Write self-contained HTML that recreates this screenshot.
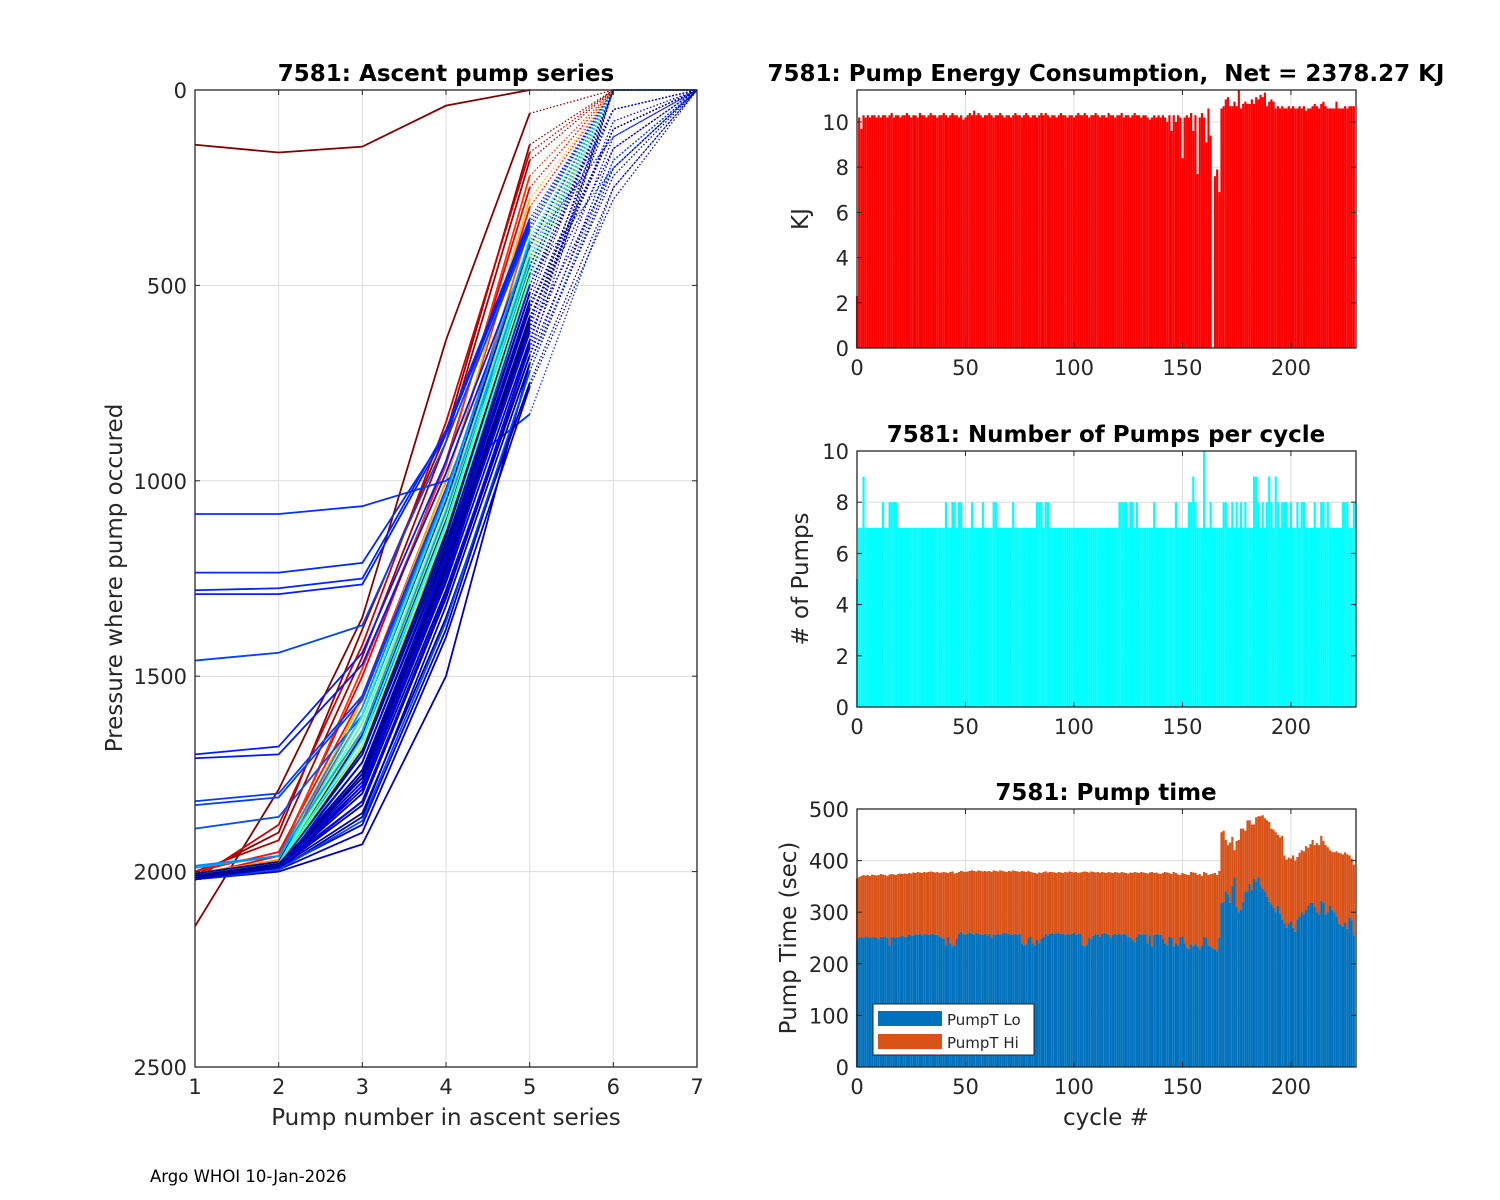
<!DOCTYPE html>
<html><head><meta charset="utf-8">
<style>
html,body{margin:0;padding:0;background:#fff;}
svg{display:block;font-family:"DejaVu Sans","Liberation Sans",sans-serif;}
</style></head>
<body>
<svg id="fig" width="1500" height="1200" viewBox="0 0 1500 1200">
<rect x="0" y="0" width="1500" height="1200" fill="#fff"/>
</svg>
<script>
// ---------- DATA ----------
const energyKJ = [2.3,10.2,9.7,10.3,10.2,10.3,10.2,10.3,10.3,10.2,
10.3,10.2,10.3,10.3,10.2,10.3,10.4,10.2,10.3,10.3,
10.2,10.3,10.3,10.4,10.3,10.2,10.3,10.3,10.2,10.4,
10.3,10.3,10.2,10.3,10.4,10.3,10.3,10.2,10.3,10.3,
10.4,10.3,10.2,10.3,10.4,10.3,10.3,10.2,10.3,10.1,
10.2,10.3,10.4,10.3,10.5,10.3,10.4,10.3,10.2,10.3,
10.3,10.4,10.3,10.2,10.3,10.3,10.4,10.3,10.2,10.3,
10.3,10.2,10.3,10.4,10.3,10.3,10.2,10.3,10.4,10.3,
10.2,10.3,10.3,10.2,10.3,10.4,10.3,10.4,10.3,10.2,
10.3,10.3,10.2,10.3,10.4,10.3,10.3,10.2,10.3,10.3,
10.2,10.3,10.4,10.3,10.3,10.4,10.3,10.2,10.3,10.3,
10.4,10.3,10.2,10.3,10.3,10.2,10.4,10.3,10.3,10.2,
10.3,10.3,10.4,10.2,10.3,10.3,10.2,10.3,10.4,10.3,
10.3,10.2,10.3,10.3,10.2,10.1,10.2,10.3,10.2,10.3,
10.2,10.3,10.2,10.0,10.3,9.6,10.3,10.0,10.3,10.2,
8.4,10.2,10.3,10.2,10.4,9.6,10.3,7.7,10.2,10.4,
10.2,9.1,10.6,9.4,0,7.6,7.9,6.9,10.6,10.7,
11.0,11.1,10.7,10.7,10.9,10.7,11.4,10.6,10.8,10.9,
10.8,10.8,11.0,10.8,11.1,11.0,11.2,11.1,11.3,10.7,
10.9,11.0,10.9,10.6,10.7,10.6,10.7,10.6,10.6,10.7,
10.6,10.7,10.6,10.6,10.7,10.6,10.7,10.5,10.6,10.6,
10.7,10.8,10.7,10.6,10.8,10.9,10.7,10.6,10.6,10.6,
10.6,10.9,10.6,10.6,10.6,10.7,10.6,10.7,10.7,10.7];
const pumpCount = [5,7,7,9,7,7,7,7,7,7,
7,7,8,7,7,8,8,8,8,7,
7,7,7,7,7,7,7,7,7,7,
7,7,7,7,7,7,7,7,7,7,
7,8,7,7,8,8,7,8,8,7,
7,7,7,8,7,7,7,7,8,7,
7,7,7,8,8,7,7,7,7,7,
7,7,8,7,7,7,7,7,7,7,
7,7,7,8,8,8,7,8,8,7,
7,7,7,7,7,7,7,7,7,7,
7,7,7,7,7,7,7,7,7,7,
7,7,7,7,7,7,7,7,7,7,
7,8,8,8,8,7,8,8,7,8,
7,7,7,7,7,7,7,8,7,7,
7,7,7,7,7,7,7,8,7,7,
7,7,7,8,8,9,8,7,7,7,
10,7,7,8,7,7,7,7,7,8,
8,7,7,8,7,8,7,8,7,8,
7,7,7,9,9,8,7,8,7,8,
9,8,7,9,8,7,8,8,8,7,
8,7,7,8,7,8,8,7,7,7,
7,8,7,7,8,8,7,8,7,7,
7,7,7,7,8,8,8,7,7,8];
const pumpLo = [245,250,252,250,253,252,250,251,252,250,
248,252,251,253,250,236,252,251,250,252,
253,254,251,252,256,255,254,257,256,258,
255,257,258,256,257,258,256,256,253,250,
248,236,252,240,234,236,248,258,262,258,
256,258,261,258,256,260,258,257,256,258,
255,258,250,257,256,258,257,258,260,259,
258,256,257,258,256,258,240,236,238,250,
252,240,236,246,240,248,252,258,255,258,
260,258,259,260,258,258,256,258,256,258,
260,256,258,258,236,234,238,250,248,254,
258,256,252,258,260,258,256,250,256,258,
256,258,256,258,256,252,250,246,242,252,
258,256,258,257,240,255,234,256,258,257,
256,248,240,236,252,250,234,240,236,252,
253,240,232,228,238,234,238,234,228,236,
252,250,236,234,230,228,224,250,318,320,
340,335,318,350,368,310,300,305,320,340,
340,355,342,365,360,368,352,345,340,330,
320,315,308,300,312,298,285,278,270,278,
282,270,262,286,292,300,296,305,312,318,
318,310,300,296,322,318,296,300,312,305,
300,292,278,276,272,280,268,290,284,255];
const pumpTotal = [365,368,370,372,371,372,370,373,372,371,
372,374,373,372,370,373,374,373,372,374,
375,374,375,374,376,375,377,376,378,377,
376,378,377,378,379,378,377,378,376,377,
378,377,376,378,379,375,376,378,380,379,
378,379,380,381,380,379,381,380,379,380,
379,380,378,381,380,379,381,380,379,378,
380,379,381,380,379,378,380,379,378,380,
378,377,376,375,377,376,378,379,377,378,
378,377,376,378,377,376,378,377,379,378,
377,378,376,377,378,379,378,377,379,378,
377,378,376,378,377,376,378,377,376,378,
377,376,378,377,376,375,377,376,378,377,
376,378,377,376,375,377,378,376,377,375,
374,376,378,377,376,374,378,376,373,372,
376,374,373,372,378,377,376,372,374,370,
378,376,372,374,375,376,372,380,455,458,
440,430,435,446,420,438,440,462,462,458,
478,478,470,470,484,486,486,488,482,478,
475,462,460,455,450,445,448,410,402,406,
404,410,400,407,415,420,418,428,425,432,
440,430,434,430,448,438,430,426,420,417,
416,418,415,414,412,416,412,410,404,392];
// ascent series: cycle index and pressures at pump 1..7
const ascentCycles = [0,2,5,10,18,25,32,40,48,60,70,80,
 190,192,193,194,186,195,196,188,187,184,
 212,214,216,218,220,222,223,224,225,226,227,228,229,221,219,217,215,213,211,209,210,226,228,229,
 100,110,120,130,140,145,165,170,185,200,205,215,225,229];
const ascentPress = [
[140,160,145,40,0,0,0],
[2140,1790,1350,640,60,0,0],
[2010,1900,1380,880,140,0,0],
[2000,1920,1450,900,180,0,0],
[2020,1880,1420,850,160,0,0],
[2010,1960,1500,950,250,0,0],
[2000,1950,1550,1000,300,0,0],
[2015,1970,1480,960,220,0,0],
[1990,1960,1600,1050,350,0,0],
[2005,1970,1650,1100,400,0,0],
[2010,1975,1560,1000,280,0,0],
[2015,1980,1620,1080,380,0,0],
[1085,1085,1065,1000,830,250,0],
[1235,1235,1210,880,350,0,0],
[1280,1275,1250,870,330,0,0],
[1290,1290,1265,880,340,0,0],
[1460,1440,1370,900,360,0,0],
[1700,1680,1440,950,400,120,0],
[1710,1700,1470,980,420,0,0],
[1820,1800,1550,1020,450,50,0],
[1830,1810,1560,1030,460,0,0],
[1890,1860,1600,1050,480,200,0],
[2020,1990,1750,1200,550,100,0],
[2015,1985,1700,1150,500,0,0],
[2020,2000,1930,1500,700,150,0],
[2010,1990,1880,1380,720,200,0],
[2015,1985,1820,1300,650,0,0],
[2020,1995,1780,1250,600,0,0],
[2010,1980,1650,1100,450,0,0],
[2005,1975,1600,1050,400,0,0],
[2015,1990,1850,1350,750,250,0],
[2010,1985,1720,1180,520,0,0],
[2020,1990,1800,1280,680,180,0],
[2015,1985,1760,1230,600,0,0],
[2010,1990,1700,1170,560,100,0],
[2020,1995,1860,1320,700,220,0],
[2015,1980,1680,1120,480,0,0],
[2010,1985,1740,1210,580,150,0],
[2020,1990,1790,1260,640,0,0],
[2015,1995,1900,1400,760,280,0],
[2010,1980,1660,1130,500,50,0],
[2020,1990,1720,1190,540,0,0],
[2015,1985,1770,1240,620,200,0],
[2010,1990,1830,1300,680,0,0],
[2020,1995,1750,1220,580,100,0],
[2015,1985,1690,1140,470,0,0],
[2010,1980,1640,1090,420,0,0],
[2015,1985,1680,1120,460,0,0],
[2010,1980,1620,1070,410,0,0],
[2020,1990,1700,1160,480,0,0],
[2015,1985,1660,1110,440,0,0],
[2010,1980,1600,1040,380,0,0],
[1990,1960,1640,1080,430,0,0],
[1985,1960,1580,1030,390,0,0],
[2020,1995,1870,1360,720,180,0],
[2015,1990,1820,1290,660,120,0],
[2010,1985,1780,1240,610,80,0],
[2020,1990,1740,1200,560,50,0],
[2015,1985,1700,1160,520,0,0],
[2010,1980,1760,1220,590,100,0]];
// ---------- HELPERS ----------
const NS='http://www.w3.org/2000/svg';
const fig=document.getElementById('fig');
const TICK=21, LAB=23, TITLE=23;
function el(tag,attrs,parent){const e=document.createElementNS(NS,tag);for(const k in attrs)e.setAttribute(k,attrs[k]);(parent||fig).appendChild(e);return e;}
function txt(s,x,y,size,anchor,weight,parent){const t=el('text',{x:x,y:y,'font-size':size,'text-anchor':anchor||'middle','font-weight':weight||'normal',fill:weight==='bold'?'#000':'#262626'},parent);t.textContent=s;return t;}
function jet(t){t=Math.max(0,Math.min(1,t));const r=Math.min(1,Math.max(0,1.5-Math.abs(4*t-3)));const g=Math.min(1,Math.max(0,1.5-Math.abs(4*t-2)));const b=Math.min(1,Math.max(0,1.5-Math.abs(4*t-1)));return 'rgb('+Math.round(r*255)+','+Math.round(g*255)+','+Math.round(b*255)+')';}

function axesBox(L,T,R,B,name){
  const g=el('g',{});
  
  
  return g;
}
function frame(g,L,T,R,B){el('rect',{x:L,y:T,width:R-L,height:B-T,fill:'none',stroke:'#262626','stroke-width':1.3},g);}

// ---------- LEFT CHART ----------
(function(){
  const L=195,T=90,R=697,B=1067;
  const g=axesBox(L,T,R,B,'ascent-pump-chart');
  const xs=n=>L+(n-1)*(R-L)/6;
  const ys=p=>T+p*(B-T)/2500;
  for(let n=1;n<=7;n++){el('line',{x1:xs(n),x2:xs(n),y1:T,y2:B,stroke:'#dcdcdc','stroke-width':1},g);}
  for(let p=0;p<=2500;p+=500){el('line',{x1:L,x2:R,y1:ys(p),y2:ys(p),stroke:'#dcdcdc','stroke-width':1},g);}
  const lg=el('g',{},g);
  
  
  ascentPress.forEach((pr,i)=>{
    const c=jet(1-ascentCycles[i]/230);
    let d='';for(let k=0;k<5;k++)d+=(k?'L':'M')+xs(k+1)+','+ys(pr[k]);
    const pl=el('path',{d:d,fill:'none',stroke:c,'stroke-width':1.8},lg);
    
    
    let d2='M'+xs(5)+','+ys(pr[4]);for(let k=5;k<7;k++)d2+='L'+xs(k+1)+','+ys(pr[k]);
    const pd=el('path',{d:d2,fill:'none',stroke:c,'stroke-width':1.3,'stroke-dasharray':'1.5,2'},lg);
    
    
  });
  frame(g,L,T,R,B);
  for(let n=1;n<=7;n++){el('line',{x1:xs(n),x2:xs(n),y1:B,y2:B-5,stroke:'#262626'},g);el('line',{x1:xs(n),x2:xs(n),y1:T,y2:T+5,stroke:'#262626'},g);const t=txt(String(n),xs(n),B+27,TICK,'middle','normal',g);}
  for(let p=0;p<=2500;p+=500){el('line',{x1:L,x2:L+5,y1:ys(p),y2:ys(p),stroke:'#262626'},g);el('line',{x1:R,x2:R-5,y1:ys(p),y2:ys(p),stroke:'#262626'},g);const t=txt(String(p),L-8,ys(p)+8,TICK,'end','normal',g);}
  const tt=txt('7581: Ascent pump series',446,81,TITLE,'middle','bold',g);
  
  const xl=txt('Pump number in ascent series',446,1125,LAB,'middle','normal',g);
  
  const yl=txt('Pressure where pump occured',0,0,LAB,'middle','normal',g);
  yl.setAttribute('transform','translate(122,578) rotate(-90)');
  
})();

// ---------- RIGHT CHARTS ----------
const RL=857,RR=1356;
const xc=c=>RL+c*(RR-RL)/230;
const bw=(RR-RL)/230;
function rightAxes(T,B,vmax,yticks,name,title,ylab,ylabX){
  const g=axesBox(RL,T,RR,B,name);
  const ys=v=>B-v*(B-T)/vmax;
  for(let c=0;c<=200;c+=50)el('line',{x1:xc(c),x2:xc(c),y1:T,y2:B,stroke:'#dcdcdc'},g);
  yticks.forEach(v=>el('line',{x1:RL,x2:RR,y1:ys(v),y2:ys(v),stroke:'#dcdcdc'},g));
  return {g:g,ys:ys,finish:function(){
    frame(g,RL,T,RR,B);
    for(let c=0;c<=200;c+=50){el('line',{x1:xc(c),x2:xc(c),y1:B,y2:B-5,stroke:'#262626'},g);el('line',{x1:xc(c),x2:xc(c),y1:T,y2:T+5,stroke:'#262626'},g);const t=txt(String(c),xc(c),B+27,TICK,'middle','normal',g);}
    yticks.forEach(v=>{el('line',{x1:RL,x2:RL+5,y1:ys(v),y2:ys(v),stroke:'#262626'},g);el('line',{x1:RR,x2:RR-5,y1:ys(v),y2:ys(v),stroke:'#262626'},g);const t=txt(String(v),RL-8,ys(v)+8,TICK,'end','normal',g);});
    const tt=txt(title,1106,T-9,TITLE,'middle','bold',g);
    const yl=txt(ylab,0,0,LAB,'middle','normal',g);yl.setAttribute('transform','translate('+ylabX+','+((T+B)/2)+') rotate(-90)');
  }};
}
// Energy
(function(){
  const a=rightAxes(90,348,258/22.6,[0,2,4,6,8,10],'energy-chart','7581: Pump Energy Consumption,\u00a0 Net = 2378.27 KJ','KJ',808);
  energyKJ.forEach((v,i)=>{if(v<=0)return;const r=el('rect',{x:xc(i)-bw/2,y:a.ys(v),width:bw,height:348-a.ys(v),fill:'#ff0000'},a.g);});
  a.finish();
})();
// Pumps
(function(){
  const a=rightAxes(451,707,10,[0,2,4,6,8,10],'pumps-chart','7581: Number of Pumps per cycle','# of Pumps',808);
  pumpCount.forEach((v,i)=>{const r=el('rect',{x:xc(i)-bw/2,y:a.ys(v),width:bw,height:707-a.ys(v),fill:'#00ffff'},a.g);});
  a.finish();
})();
// Pump time
(function(){
  const a=rightAxes(809,1067,500,[0,100,200,300,400,500],'pump-time-chart','7581: Pump time','Pump Time (sec)',796);
  pumpTotal.forEach((v,i)=>{const r=el('rect',{x:xc(i)-bw/2,y:a.ys(v),width:bw,height:a.ys(pumpLo[i])-a.ys(v),fill:'#d95319'},a.g);});
  pumpLo.forEach((v,i)=>{const r=el('rect',{x:xc(i)-bw/2,y:a.ys(v),width:bw,height:1067-a.ys(v),fill:'#0072bd'},a.g);});
  a.finish();
  const lg=el('g',{},a.g);
  
  
  el('rect',{x:873,y:1004,width:161,height:51,fill:'#fff',stroke:'#262626','stroke-width':1},lg);
  el('rect',{x:878,y:1011,width:64,height:15,fill:'#0072bd'},lg);
  el('rect',{x:878,y:1034,width:64,height:15,fill:'#d95319'},lg);
  const e1=txt('PumpT Lo',947,1025,15,'start','normal',lg);
  const e2=txt('PumpT Hi',947,1048,15,'start','normal',lg);
  const xl=txt('cycle #',1106,1125,LAB,'middle','normal',a.g);
})();
const foot=txt('Argo WHOI 10-Jan-2026',150,1182,16.5,'start','normal');
foot.setAttribute('fill','#000');


</script>
</body></html>
